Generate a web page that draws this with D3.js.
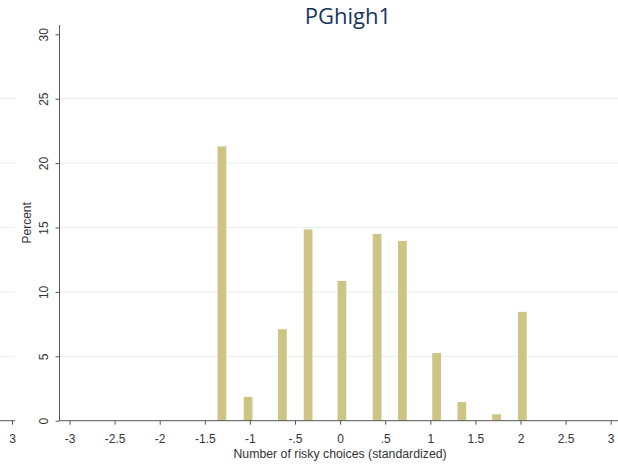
<!DOCTYPE html>
<html><head><meta charset="utf-8">
<script src="https://cdn.jsdelivr.net/npm/d3@7"></script>
<style>body{margin:0;background:#fff}svg{display:block}</style>
</head><body>
<svg id="c" width="618" height="465"></svg>
<script>
const binCenters = [-1.31, -1.02, -0.64, -0.355, 0.02, 0.41, 0.69, 1.07, 1.35, 1.735, 2.02];
const percents   = [21.3, 1.85, 7.1, 14.85, 10.85, 14.5, 13.95, 5.25, 1.45, 0.5, 8.45];
const xTicks = [-3, -2.5, -2, -1.5, -1, -0.5, 0, 0.5, 1, 1.5, 2, 2.5, 3];
const xTickLabels = ["-3", "-2.5", "-2", "-1.5", "-1", "-.5", "0", ".5", "1", "1.5", "2", "2.5", "3"];
const yTicks = [0, 5, 10, 15, 20, 25, 30];
const gridTicks = [5, 10, 15, 20, 25];
const title = "PGhigh1";
const xLabel = "Number of risky choices (standardized)";
const yLabel = "Percent";
const binWidth = 0.097;

const svg = d3.select("#c");
const W = 618, H = 465;
const x = d3.scaleLinear().domain([-3, 3]).range([69.5, 610.7]);
const y = d3.scaleLinear().domain([0, 30]).range([420.7, 34.3]);
const axisColor = "#555";
const textColor = "#333";
const font = "'Liberation Sans', Arial, sans-serif";

const defs = svg.append("defs");
defs.append("clipPath").attr("id", "prevClip").append("rect").attr("x", 0).attr("y", 0).attr("width", 15).attr("height", H);

// gridlines main
svg.append("g").selectAll("line").data(gridTicks).join("line")
  .attr("x1", 60).attr("x2", W).attr("y1", d => y(d)).attr("y2", d => y(d))
  .attr("stroke", "#e6efef").attr("stroke-width", 1);
// gridlines previous panel fragment
svg.append("g").attr("clip-path", "url(#prevClip)").selectAll("line").data(gridTicks).join("line")
  .attr("x1", 0).attr("x2", 15).attr("y1", d => y(d)).attr("y2", d => y(d))
  .attr("stroke", "#e6efef").attr("stroke-width", 1);

// bars
const bw = x(binWidth) - x(0);
svg.append("g").selectAll("rect").data(binCenters).join("rect")
  .attr("x", (d) => x(d) - bw / 2)
  .attr("width", bw)
  .attr("y", (d, i) => y(percents[i]))
  .attr("height", (d, i) => y(0) - y(percents[i]))
  .attr("fill", "#cdc583");

// x axis main
const xAxis = d3.axisBottom(x).tickValues(xTicks).tickSize(4).tickPadding(9.5)
  .tickFormat((d, i) => xTickLabels[i]);
const gx = svg.append("g").attr("transform", `translate(0,${y(0)})`).call(xAxis);
gx.select(".domain").remove();
gx.append("line").attr("x1", 59.5).attr("x2", W).attr("y1", 0).attr("y2", 0).attr("stroke", axisColor);
gx.selectAll(".tick line").attr("stroke", axisColor);
gx.selectAll(".tick text").attr("fill", textColor).attr("font-family", font).attr("font-size", 12);

// previous panel fragment axis
const xPrev = d3.scaleLinear().domain([-3, 3]).range([12 - (x(3) - x(-3)), 12]);
const gp = svg.append("g").attr("transform", `translate(0,${y(0)})`)
  .call(d3.axisBottom(xPrev).tickValues(xTicks).tickSize(4).tickPadding(9.5).tickFormat((d, i) => xTickLabels[i]));
gp.select(".domain").remove();
gp.append("line").attr("x1", 0).attr("x2", 15).attr("y1", 0).attr("y2", 0).attr("stroke", axisColor);
gp.selectAll(".tick line").attr("stroke", axisColor);
gp.selectAll(".tick text").attr("fill", textColor).attr("font-family", font).attr("font-size", 12);
gp.selectAll(".tick").filter(d => d !== 3).remove();

// y axis
const yAxis = d3.axisLeft(y).tickValues(yTicks).tickSize(4).tickPadding(0).tickFormat(d3.format("d"));
const gy = svg.append("g").attr("transform", "translate(59.5,0)").call(yAxis);
gy.select(".domain").remove();
gy.append("line").attr("x1", 0).attr("x2", 0).attr("y1", 25).attr("y2", y(0)).attr("stroke", axisColor);
gy.selectAll(".tick line").attr("stroke", axisColor);
gy.selectAll(".tick text")
  .attr("x", null).attr("dy", null)
  .attr("transform", "translate(-12,0) rotate(-90)")
  .attr("text-anchor", "middle")
  .attr("fill", textColor).attr("font-family", font).attr("font-size", 12);

// axis titles
svg.append("text").attr("x", x(0)).attr("y", 458).attr("text-anchor", "middle")
  .attr("font-family", font).attr("font-size", 12.3).attr("fill", textColor).text(xLabel);
svg.append("text").attr("transform", `translate(31,${(y(0) + 25) / 2}) rotate(-90)`).attr("text-anchor", "middle")
  .attr("font-family", font).attr("font-size", 12).attr("fill", textColor).text(yLabel);

// title
svg.append("text").attr("x", 348).attr("y", 24).attr("text-anchor", "middle")
  .attr("font-family", "'Open Sans', sans-serif").attr("font-size", 22).attr("fill", "#17365d").text(title);
</script>
</body></html>
